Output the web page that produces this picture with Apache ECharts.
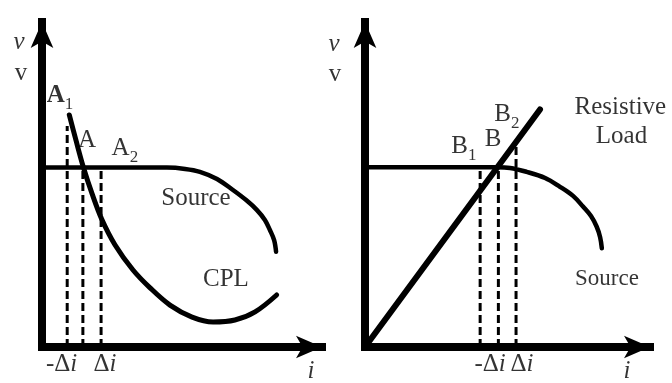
<!DOCTYPE html>
<html>
<head>
<meta charset="utf-8">
<script src="https://cdn.jsdelivr.net/npm/echarts@6/dist/echarts.min.js"></script>
<style>
  html, body { margin: 0; padding: 0; background: #fff; }
  #chart { width: 672px; height: 383px; }
</style>
</head>
<body>
<div id="chart"></div>
<script>
// ---- Left panel: source characteristic vs. constant-power load (CPL) ----
const sourceLeft = [[0, 55.2], [44.6, 55.2], [51.1, 54.8], [56.4, 53.9], [62.5, 51.7], [68.2, 48.3],
  [72.9, 45.2], [76.7, 42.2], [79.6, 39.1], [81.4, 36.0], [82.9, 32.9], [83.6, 29.3]];
const cplLeft = [[9.75, 71.4], [12.1, 63.7], [14.75, 55.4], [17.9, 47.1], [21.3, 39.4], [26.1, 31.4],
  [32.5, 23.7], [38.6, 18.2], [45.7, 12.9], [53.6, 9.2], [61.1, 7.7], [68.9, 8.3], [76.1, 10.8], [83.8, 16.0]];
// perturbation guides: [i, v at top of the guide]
const guidesLeft = [[9.0, 68.0], [14.6, 55.2], [21.1, 55.2]];
// annotations: [i, v, rich text]
const labelsLeft = [
  [-8.2, 93.2, '{it|v}'],
  [-7.5, 83.7, '{rm|v}'],
  [6.4, 76.9, '{b|A}{s|1}'],
  [16.1, 63.1, '{rm|A}'],
  [29.6, 60.6, '{rm|A}{s|2}'],
  [55.0, 45.2, '{rm|Source}'],
  [65.7, 20.3, '{rm|CPL}'],
  [7.0, -5.8, '{rm|-Δ}{it|i}'],
  [22.5, -5.8, '{rm|Δ}{it|i}'],
  [96.1, -8.0, '{it|i}']
];

// ---- Right panel: source characteristic vs. resistive load ----
const sourceRight = [[0, 55.3], [46.2, 55.3], [50.9, 55.1], [56.7, 53.9], [63.2, 52.0], [68.4, 49.3],
  [73.0, 46.5], [76.5, 43.2], [79.3, 40.3], [81.3, 37.0], [82.5, 33.8], [83.1, 30.4]];
const resistiveRight = [[0, 0], [61.4, 73.1]];
const guidesRight = [[40.4, 55.3], [46.8, 55.3], [53.0, 63.1]];
const labelsRight = [
  [-10.9, 92.6, '{it|v}'],
  [-10.5, 83.4, '{rm|v}'],
  [34.7, 61.2, '{rm|B}{s|1}'],
  [44.9, 63.4, '{rm|B}'],
  [49.8, 71.1, '{rm|B}{s|2}'],
  [89.6, 73.2, '{rm|Resistive}'],
  [90.0, 64.3, '{rm|Load}'],
  [84.9, 20.3, '{sm|Source}'],
  [43.9, -5.8, '{rm|-Δ}{it|i}'],
  [55.1, -5.8, '{rm|Δ}{it|i}'],
  [91.9, -8.0, '{it|i}']
];

const SERIF = '"Liberation Serif", "DejaVu Serif", serif';
const rich = {
  rm: { fontFamily: SERIF, fontSize: 25, lineHeight: 28, verticalAlign: 'top', color: '#000' },
  sm: { fontFamily: SERIF, fontSize: 23, lineHeight: 28, verticalAlign: 'top', color: '#000' },
  it: { fontFamily: SERIF, fontSize: 25, lineHeight: 28, verticalAlign: 'top', fontStyle: 'italic', color: '#000' },
  b:  { fontFamily: SERIF, fontSize: 25, lineHeight: 28, verticalAlign: 'top', fontWeight: 'bold', color: '#000' },
  s:  { fontFamily: SERIF, fontSize: 17, lineHeight: 17, verticalAlign: 'top', padding: [13, 0, 0, 0], color: '#000' }
};

function axisPair(gridIndex) {
  const line = {
    show: true, onZero: false,
    symbol: ['none', 'arrow'], symbolSize: [17, 26],
    lineStyle: { color: '#000', width: 8, cap: 'square' }
  };
  const common = {
    gridIndex, type: 'value', min: 0, max: 100,
    axisLine: line, axisTick: { show: false }, axisLabel: { show: false },
    splitLine: { show: false }
  };
  return [Object.assign({}, common), Object.assign({}, common)];
}

function curve(gridIndex, data, width) {
  return {
    type: 'line', xAxisIndex: gridIndex, yAxisIndex: gridIndex, data,
    smooth: 0.35, showSymbol: false, symbol: 'none',
    lineStyle: { color: '#000', width, cap: 'round' }, z: 3
  };
}

function guides(gridIndex, list) {
  return list.map(([x, top]) => ({
    type: 'line', xAxisIndex: gridIndex, yAxisIndex: gridIndex,
    data: [[x, 0], [x, top]], symbol: 'none',
    lineStyle: { color: '#000', width: 3, type: [8, 4] }, z: 2
  }));
}

function annotations(gridIndex, list) {
  return {
    type: 'scatter', xAxisIndex: gridIndex, yAxisIndex: gridIndex,
    symbolSize: 0, clip: false, silent: true, z: 5,
    data: list.map(([x, y, t]) => ({ value: [x, y], name: t })),
    label: {
      show: true, position: 'inside', align: 'center', verticalAlign: 'middle',
      formatter: p => p.name, rich
    }
  };
}

const [xL, yL] = axisPair(0);
const [xR, yR] = axisPair(1);

const chart = echarts.init(document.getElementById('chart'), null, { renderer: 'canvas' });
chart.setOption({
  animation: false,
  backgroundColor: '#fff',
  grid: [
    { left: 42, top: 22, width: 280, height: 325, containLabel: false },
    { left: 365, top: 22, width: 285, height: 325, containLabel: false }
  ],
  xAxis: [xL, xR],
  yAxis: [yL, yR],
  series: [
    curve(0, sourceLeft, 4.5),
    curve(0, cplLeft, 5),
    ...guides(0, guidesLeft),
    annotations(0, labelsLeft),
    curve(1, sourceRight, 4.5),
    curve(1, resistiveRight, 6),
    ...guides(1, guidesRight),
    annotations(1, labelsRight)
  ]
});
</script>
</body>
</html>
